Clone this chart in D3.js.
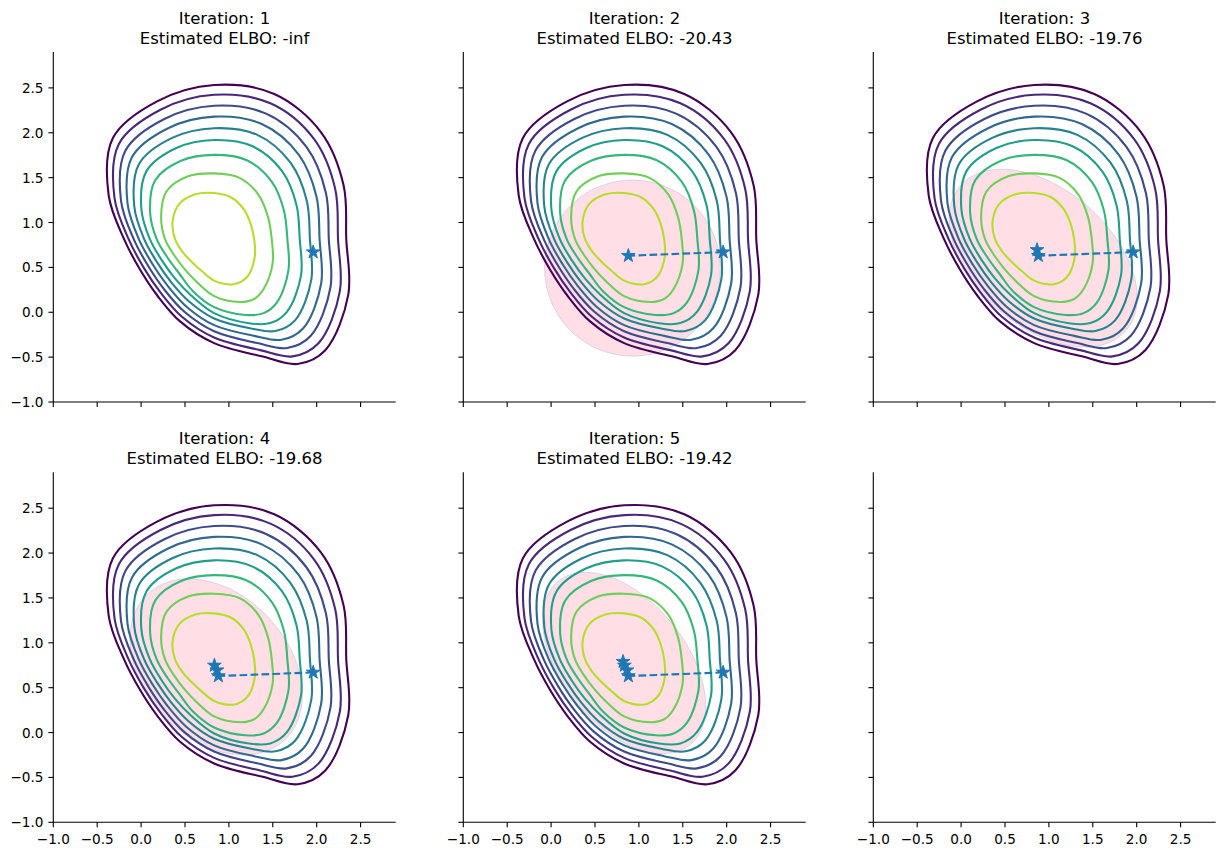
<!DOCTYPE html>
<html><head><meta charset="utf-8">
<script src="https://cdn.jsdelivr.net/npm/d3@7"></script>
<style>body{margin:0;background:#fff;} text{font-family:"DejaVu Sans",sans-serif;fill:#000;}</style>
</head><body><svg id="c" width="1225" height="856"></svg>
<script>
// ---------- data ----------
const xTicks = [-1.0, -0.5, 0.0, 0.5, 1.0, 1.5, 2.0, 2.5];
const yTicks = [-1.0, -0.5, 0.0, 0.5, 1.0, 1.5, 2.0, 2.5];
const xDomain = [-1.0, 2.9];
const yDomain = [-1.0, 2.9];
const iterations = [1, 2, 3, 4, 5];
const elboLabels = ["-inf", "-20.43", "-19.76", "-19.68", "-19.42"];
// trajectory of the variational mean (one new point per iteration)
const meanX = [1.96, 0.88, 0.865, 0.835, 0.82];
const meanY = [0.67, 0.63, 0.695, 0.748, 0.79];
// approximating gaussian ellipse per iteration (null = none drawn)
const ellCx    = [null, 0.927, 0.935, 0.855, 0.832];
const ellCy    = [null, 0.492, 0.603, 0.731, 0.775];
const ellA     = [null, 1.00, 1.24, 1.127, 1.18];
const ellB     = [null, 0.98, 0.767, 0.81, 0.70];
const ellAngle = [null, 0, -40, -45, -50];
// contour lines of the target density, outer -> inner
const contour1 = [[2.337,.815],[2.307,1.412],[2.050,2.005],[1.517,2.432],[.832,2.532],[.182,2.350],[-.321,1.942],[-.369,1.301],[-.194,.815],[-.011,.474],[.187,.184],[.444,-.102],[.832,-.344],[1.386,-.493],[1.782,-.576],[2.098,-.423],[2.360,.196]];
const contour2 = [[2.243,.815],[2.211,1.373],[1.971,1.928],[1.473,2.328],[.832,2.423],[.221,2.257],[-.253,1.876],[-.303,1.274],[-.142,.815],[.033,.492],[.222,.219],[.465,-.050],[.832,-.282],[1.356,-.422],[1.725,-.492],[2.020,-.346],[2.264,.235]];
const contour3 = [[2.138,.815],[2.105,1.330],[1.883,1.842],[1.424,2.213],[.832,2.301],[.265,2.154],[-.178,1.802],[-.229,1.245],[-.084,.815],[.083,.512],[.261,.257],[.490,.008],[.832,-.212],[1.323,-.343],[1.662,-.399],[1.933,-.262],[2.157,.278]];
const contour4 = [[2.033,.815],[1.998,1.287],[1.795,1.756],[1.375,2.097],[.832,2.180],[.308,2.051],[-.103,1.729],[-.155,1.215],[-.026,.815],[.133,.532],[.301,.296],[.514,.065],[.832,-.143],[1.289,-.263],[1.599,-.307],[1.847,-.178],[2.051,.321]];
const contour5 = [[1.923,.815],[1.887,1.242],[1.702,1.666],[1.324,1.977],[.832,2.051],[.354,1.943],[-.024,1.651],[-.078,1.184],[.035,.815],[.185,.553],[.342,.336],[.540,.126],[.832,-.069],[1.254,-.180],[1.532,-.209],[1.756,-.088],[1.939,.367]];
const contour6 = [[1.807,.815],[1.770,1.195],[1.606,1.572],[1.270,1.849],[.832,1.919],[.402,1.830],[.060,1.570],[.003,1.151],[.100,.815],[.239,.575],[.385,.378],[.567,.190],[.832,-.010],[1.229,-.122],[1.472,-.121],[1.661,.005],[1.822,.414]];
const contour7 = [[1.666,.815],[1.626,1.137],[1.487,1.455],[1.204,1.694],[.832,1.754],[.461,1.691],[.161,1.471],[.103,1.110],[.178,.815],[.306,.602],[.437,.429],[.588,.238],[.832,.057],[1.190,-.030],[1.396,-.010],[1.550,.113],[1.679,.472]];
const contour8 = [[1.488,.815],[1.445,1.063],[1.338,1.309],[1.121,1.498],[.832,1.547],[.535,1.515],[.289,1.346],[.228,1.059],[.273,.815],[.379,.632],[.493,.484],[.631,.341],[.832,.180],[1.129,.115],[1.288,.148],[1.397,.262],[1.498,.545]];
const contour9 = [[1.288,.815],[1.248,.984],[1.171,1.146],[1.028,1.279],[.832,1.328],[.620,1.315],[.433,1.205],[.358,1.007],[.387,.815],[.474,.670],[.574,.563],[.684,.465],[.832,.352],[1.046,.310],[1.152,.347],[1.231,.425],[1.296,.627]];
const contours = [contour1, contour2, contour3, contour4, contour5, contour6, contour7, contour8, contour9];

// ---------- layout ----------
const W = 1225, H = 856;
const colLeft = [53.3, 463.3, 873.3];
const rowTop = [52, 472.3];
const pw = 342.4, ph = 350;
const svg = d3.select("#c");
svg.append("rect").attr("width", W).attr("height", H).attr("fill", "#fff");

const fmt = v => d3.format(".1f")(v).replace("-", "\u2212");
const blue = "#1f77b4";

for (let p = 0; p < 6; p++) {
  const row = Math.floor(p / 3), col = p % 3;
  const x0 = colLeft[col], y0 = rowTop[row];
  const xs = d3.scaleLinear().domain(xDomain).range([x0, x0 + pw]);
  const ys = d3.scaleLinear().domain(yDomain).range([y0 + ph, y0]);
  const g = svg.append("g");
  const clipId = "clip" + p;
  g.append("clipPath").attr("id", clipId).append("rect")
    .attr("x", x0).attr("y", y0).attr("width", pw).attr("height", ph);
  const plot = g.append("g").attr("clip-path", `url(#${clipId})`);

  if (p < iterations.length) {
    const it = p;
    // ellipse (patch, below lines)
    if (ellCx[it] !== null) {
      const pts = d3.range(0, 361, 3).map(a => {
        const t = a * Math.PI / 180, r = ellAngle[it] * Math.PI / 180;
        const ex = ellA[it] * Math.cos(t), ey = ellB[it] * Math.sin(t);
        return [ellCx[it] + ex * Math.cos(r) - ey * Math.sin(r),
                ellCy[it] + ex * Math.sin(r) + ey * Math.cos(r)];
      });
      plot.append("path")
        .attr("d", d3.line().x(d => xs(d[0])).y(d => ys(d[1]))(pts) + "Z")
        .attr("fill", "#ffc0cb").attr("fill-opacity", 0.5)
        .attr("stroke", "#c9c3ee").attr("stroke-opacity", 0.7).attr("stroke-width", 1);
    }
    // contours
    const line = d3.line().x(d => xs(d[0])).y(d => ys(d[1])).curve(d3.curveCatmullRomClosed.alpha(0.5));
    contours.forEach((c, i) => {
      plot.append("path").attr("d", line(c)).attr("fill", "none")
        .attr("stroke", d3.interpolateViridis(i / 9)).attr("stroke-width", 2.1);
    });
    // trajectory
    const n = iterations[it];
    const traj = d3.range(n).map(k => [meanX[k], meanY[k]]);
    plot.append("path").attr("d", d3.line().x(d => xs(d[0])).y(d => ys(d[1]))(traj))
      .attr("fill", "none").attr("stroke", blue).attr("stroke-width", 2.1)
      .attr("stroke-dasharray", "7.7,3.3");
    const star = d3.symbol().type(d3.symbolStar).size(58)();
    traj.forEach(d => {
      plot.append("path").attr("d", star)
        .attr("transform", `translate(${xs(d[0])},${ys(d[1])})`)
        .attr("fill", blue).attr("stroke", blue).attr("stroke-width", 1);
    });
    // title
    const tx = x0 + pw / 2;
    g.append("text").attr("x", tx).attr("y", y0 - 28).attr("text-anchor", "middle")
      .attr("font-size", "16.5px").text("Iteration: " + iterations[it]);
    g.append("text").attr("x", tx).attr("y", y0 - 8).attr("text-anchor", "middle")
      .attr("font-size", "16.5px").text("Estimated ELBO: " + elboLabels[it]);
  }

  // spines
  g.append("line").attr("x1", x0).attr("x2", x0).attr("y1", y0).attr("y2", y0 + ph)
    .attr("stroke", "#000").attr("stroke-width", 1.1);
  g.append("line").attr("x1", x0).attr("x2", x0 + pw).attr("y1", y0 + ph).attr("y2", y0 + ph)
    .attr("stroke", "#000").attr("stroke-width", 1.1);
  // x ticks
  xTicks.forEach(v => {
    const x = xs(v);
    g.append("line").attr("x1", x).attr("x2", x).attr("y1", y0 + ph).attr("y2", y0 + ph + 4.9)
      .attr("stroke", "#000").attr("stroke-width", 1.1);
    if (row === 1) {
      g.append("text").attr("x", x).attr("y", y0 + ph + 21.5).attr("text-anchor", "middle")
        .attr("font-size", "13.6px").text(fmt(v));
    }
  });
  // y ticks
  yTicks.forEach(v => {
    const y = ys(v);
    g.append("line").attr("x1", x0 - 4.9).attr("x2", x0).attr("y1", y).attr("y2", y)
      .attr("stroke", "#000").attr("stroke-width", 1.1);
    if (col === 0) {
      g.append("text").attr("x", x0 - 9.8).attr("y", y + 5).attr("text-anchor", "end")
        .attr("font-size", "13.6px").text(fmt(v));
    }
  });
}
</script></body></html>
